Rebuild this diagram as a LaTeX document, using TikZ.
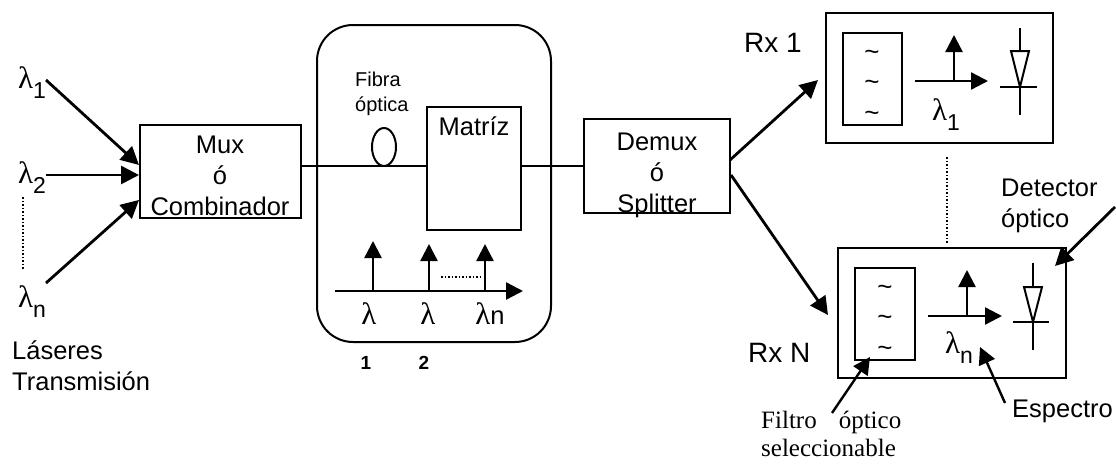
\documentclass[tikz,border=0pt]{standalone}
\usepackage{fontspec}
\setmainfont{Liberation Sans}
\newfontfamily\timesfont{Liberation Serif}
\usetikzlibrary{arrows.meta,shapes.geometric}
\newcommand{\lam}{{\timesfont\fontsize{31}{31}\selectfont λ}}
\newcommand{\lamsub}[1]{\lam\raisebox{-10pt}{\fontsize{23}{23}\selectfont #1}}
\tikzset{
    caja/.style={draw,line width=2pt,outer sep=0pt,inner sep=0pt},
    texto/.style={inner sep=0pt,anchor=base west,font=\fontsize{25.5}{30.5}\selectfont},
    textorx/.style={inner sep=0pt,anchor=base west,font=\fontsize{28}{28}\selectfont},
    textoc/.style={inner sep=0pt,anchor=base,align=center,font=\fontsize{25.5}{31}\selectfont},
    flecha/.style={line width=2.8pt,-{Triangle[length=18pt,width=18pt]}},
    flechita/.style={line width=2.4pt,-{Triangle[length=17pt,width=17pt]}},
    tilde/.style={inner sep=0pt,font=\fontsize{26}{26}\selectfont},
    indice/.style={inner sep=0pt,anchor=base,font=\bfseries\fontsize{19}{19}\selectfont},
    linea/.style={line width=2pt}
}
\begin{document}
\begin{tikzpicture}[x=1pt,y=-1pt]
    \useasboundingbox (0,0) rectangle (1116,463);

    % transmisores
    \node[texto] (L1) at (18,88) {\lamsub{1}};
    \node[texto] (L2) at (18,183) {\lamsub{2}};
    \node[texto] (Ln) at (18,307) {\lamsub{n}};
    \node[texto,align=left] (T) at (12,390) {Láseres\\Transmisión};
    \coordinate (Lini) at (23,197);
    \coordinate (Lfin) at (23,269);
    \coordinate (A1) at (46,80);
    \coordinate (A2) at (46,175);
    \coordinate (A3) at (46,283);
    \coordinate (M1) at (139,165);
    \coordinate (M2) at (139,175);
    \coordinate (M3) at (139,200);

    % bloques
    \node[caja,minimum width=161pt,minimum height=93pt] (mux) at (220.5,171.5) {};
    \node[textoc] (muxt) at (220,215) {Mux\\ó\\Combinador};
    \node[caja,rounded corners=36pt,minimum width=234pt,minimum height=317pt] (red) at (434,183.5) {};
    \node[caja,ellipse,minimum width=24pt,minimum height=38pt] (fib) at (384,147) {};
    \node[inner sep=0pt,anchor=base west,align=left,font=\fontsize{20}{25}\selectfont] (fibt) at (355,111) {Fibra\\óptica};
    \node[caja,minimum width=94pt,minimum height=123pt] (mat) at (474,168.5) {};
    \node[textoc] (matt) at (474,135) {Matríz};
    \node[caja,minimum width=146pt,minimum height=94pt] (dem) at (657,166) {};
    \node[textoc] (demt) at (657,212) {Demux\\ó\\Splitter};

    \draw[linea] (mux.east |- fib.south) to (mat.west |- fib.south);
    \draw[linea] (mat.east |- fib.south) to (dem.west |- fib.south);

    \draw[flecha] (A1) to (M1);
    \draw[flecha] (A2) to (M2);
    \draw[flecha] (A3) to (M3);
    \draw[line width=1.5pt,dotted] (Lini) to (Lfin);

    % espectro central
    \coordinate (E0) at (335,291);
    \coordinate (E1) at (523,291);
    \coordinate (P1) at (373,291);
    \coordinate (P2) at (429,291);
    \coordinate (P3) at (485,291);
    \coordinate (Q1) at (373,241);
    \coordinate (Q2) at (429,244);
    \coordinate (Q3) at (485,244);
    \coordinate (D1) at (441,277);
    \coordinate (D2) at (482,277);
    \draw[flechita] (E0) to (E1);
    \draw[flechita] (P1) to (Q1);
    \draw[flechita] (P2) to (Q2);
    \draw[flechita] (P3) to (Q3);
    \draw[line width=1.5pt,dotted] (D1) to (D2);
    \node[textoc] (la1) at (369,324) {\lam};
    \node[textoc] (la2) at (428,324) {\lam};
    \node[textoc] (la3) at (490,324) {\lam n};
    \node[indice] (n1) at (366,369) {1};
    \node[indice] (n2) at (424,369) {2};

    % receptor 1
    \node[textorx] (rx1) at (744,52) {Rx 1};
    \node[caja,minimum width=227pt,minimum height=130pt] (R1) at (939.5,78) {};
    \node[caja,minimum width=59pt,minimum height=92pt] (F1) at (872.5,79) {};
    \node[tilde] (t11) at (872,55) {\textasciitilde};
    \node[tilde] (t12) at (872,85) {\textasciitilde};
    \node[tilde] (t13) at (872,116) {\textasciitilde};
    \coordinate (B1) at (915,81);
    \coordinate (B2) at (988,81);
    \coordinate (B3) at (954,81);
    \coordinate (B4) at (954,35);
    \draw[flechita] (B1) to (B2);
    \draw[flechita] (B3) to (B4);
    \node[texto] (l1) at (932,120) {\lamsub{1}};
    \coordinate (C1) at (1020,28);
    \coordinate (C2) at (1020,115);
    \coordinate (C3) at (1000,87);
    \coordinate (C4) at (1037,87);
    \draw[linea] (C1) to (C2);
    \draw[linea] (C3) to (C4);
    \draw[linea,fill=white] (1011,51) -- (1029,51) -- (1020,87) -- cycle;

    % receptor N
    \node[textorx] (rxn) at (748,362) {Rx N};
    \node[caja,minimum width=228pt,minimum height=130pt] (RN) at (952,313) {};
    \node[caja,minimum width=60pt,minimum height=92pt] (FN) at (885,314) {};
    \node[tilde] (tn1) at (885,290) {\textasciitilde};
    \node[tilde] (tn2) at (885,320) {\textasciitilde};
    \node[tilde] (tn3) at (885,351) {\textasciitilde};
    \coordinate (G1) at (928,316);
    \coordinate (G2) at (1002,316);
    \coordinate (G3) at (967,316);
    \coordinate (G4) at (967,270);
    \draw[flechita] (G1) to (G2);
    \draw[flechita] (G3) to (G4);
    \node[texto] (ln) at (945,353) {\lamsub{n}};
    \coordinate (H1) at (1033,263);
    \coordinate (H2) at (1033,350);
    \coordinate (H3) at (1013,322);
    \coordinate (H4) at (1049,322);
    \draw[linea] (H1) to (H2);
    \draw[linea] (H3) to (H4);
    \draw[linea,fill=white] (1024,287) -- (1042,287) -- (1033,322) -- cycle;

    \draw[line width=1.5pt,dotted] (947,157) to (947,243);

    % salidas del demux
    \coordinate (S1) at (730,160);
    \coordinate (S2) at (731,175);
    \coordinate (R1in) at (818,80);
    \coordinate (RNin) at (828,315);
    \draw[flecha] (S1) to (R1in);
    \draw[flecha] (S2) to (RNin);

    % etiquetas
    \node[texto,align=left] (det) at (1001,227) {Detector\\óptico};
    \coordinate (det0) at (1115,207);
    \coordinate (det1) at (1055,266);
    \draw[flecha] (det0) to (det1);
    \node[texto] (esp) at (1012,417) {Espectro};
    \coordinate (esp0) at (1005,403);
    \coordinate (esp1) at (980,347);
    \draw[flechita] (esp0) to (esp1);
    \node[inner sep=0pt,anchor=base west,align=left,font=\timesfont\fontsize{25}{28}\selectfont] (fil) at (761,456) {Filtro\hspace{22pt}óptico\\seleccionable};
    \coordinate (fil0) at (832,413);
    \coordinate (fil1) at (870,357);
    \draw[flechita] (fil0) to (fil1);
\end{tikzpicture}
\end{document}
